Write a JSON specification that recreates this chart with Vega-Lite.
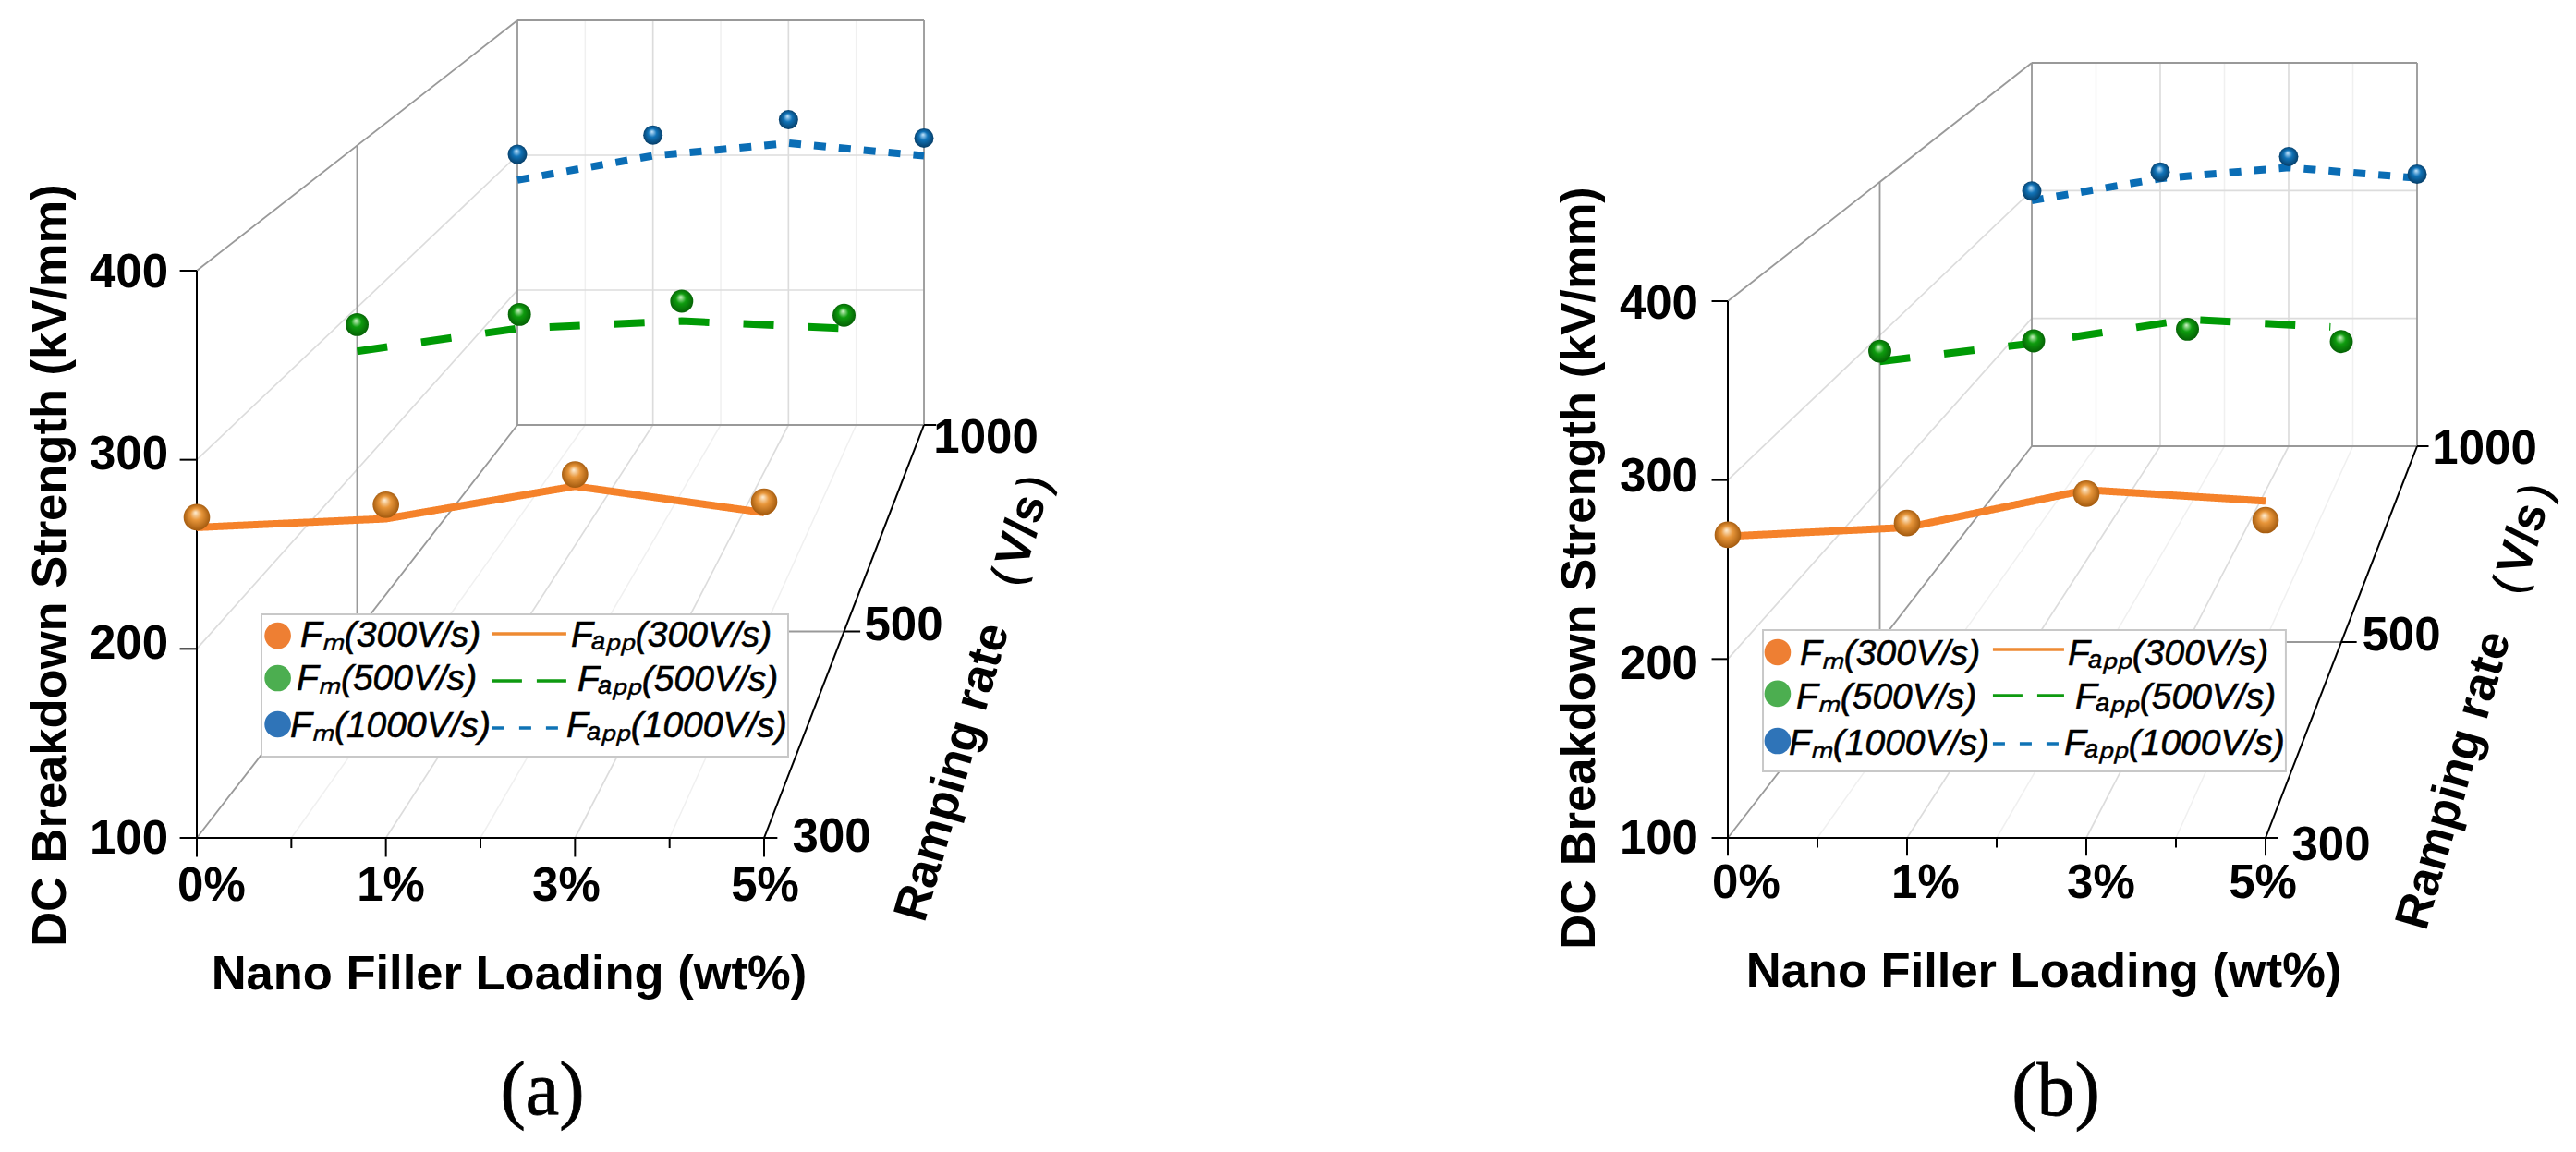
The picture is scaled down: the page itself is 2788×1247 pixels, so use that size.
{
"$schema":"https://vega.github.io/schema/vega-lite/v6.json",
"width":2788,"height":1247,"padding":0,
"autosize":{"type":"fit","contains":"padding"},
"background":"white",
"config":{"view":{"stroke":null}},
"resolve":{"scale":{"color":"independent","strokeWidth":"independent","strokeDash":"independent"}},
"data":{"values":[
{"role":"frame","kind":"faint","panel":["a","b"],"p":0.5,"t":0,"s":100,"p2":0.5,"t2":1,"s2":100},
{"role":"frame","kind":"faint","panel":["a","b"],"p":1.5,"t":0,"s":100,"p2":1.5,"t2":1,"s2":100},
{"role":"frame","kind":"faint","panel":["a","b"],"p":2.5,"t":0,"s":100,"p2":2.5,"t2":1,"s2":100},
{"role":"frame","kind":"faint","panel":["a","b"],"p":0.5,"t":1,"s":100,"p2":0.5,"t2":1,"s2":400},
{"role":"frame","kind":"faint","panel":["a","b"],"p":1.5,"t":1,"s":100,"p2":1.5,"t2":1,"s2":400},
{"role":"frame","kind":"faint","panel":["a","b"],"p":2.5,"t":1,"s":100,"p2":2.5,"t2":1,"s2":400},
{"role":"frame","kind":"light","panel":["a","b"],"p":1,"t":0,"s":100,"p2":1,"t2":1,"s2":100},
{"role":"frame","kind":"light","panel":["a","b"],"p":2,"t":0,"s":100,"p2":2,"t2":1,"s2":100},
{"role":"frame","kind":"light","panel":["a","b"],"p":1,"t":1,"s":100,"p2":1,"t2":1,"s2":400},
{"role":"frame","kind":"light","panel":["a","b"],"p":2,"t":1,"s":100,"p2":2,"t2":1,"s2":400},
{"role":"frame","kind":"light","panel":["a","b"],"p":0,"t":1,"s":200,"p2":3,"t2":1,"s2":200},
{"role":"frame","kind":"light","panel":["a","b"],"p":0,"t":1,"s":300,"p2":3,"t2":1,"s2":300},
{"role":"frame","kind":"light","panel":["a","b"],"p":0,"t":0,"s":200,"p2":0,"t2":1,"s2":200},
{"role":"frame","kind":"light","panel":["a","b"],"p":0,"t":0,"s":300,"p2":0,"t2":1,"s2":300},
{"role":"frame","kind":"edge","panel":["a","b"],"p":0,"t":0,"s":400,"p2":0,"t2":1,"s2":400},
{"role":"frame","kind":"edge","panel":["a","b"],"p":0,"t":0,"s":100,"p2":0,"t2":1,"s2":100},
{"role":"frame","kind":"edge","panel":["a","b"],"p":0,"t":1,"s":400,"p2":3,"t2":1,"s2":400},
{"role":"frame","kind":"edge","panel":["a","b"],"p":0,"t":1,"s":100,"p2":3,"t2":1,"s2":100},
{"role":"frame","kind":"edge","panel":["a","b"],"p":0,"t":1,"s":100,"p2":0,"t2":1,"s2":400},
{"role":"frame","kind":"edge","panel":["a","b"],"p":3,"t":1,"s":100,"p2":3,"t2":1,"s2":400},
{"role":"frame","kind":"edge","panel":["a","b"],"p":0,"t":0.5,"s":100,"p2":0,"t2":0.5,"s2":400},
{"role":"frame","kind":"edge","panel":["a","b"],"p":0,"t":0.5,"s":100,"p2":3,"t2":0.5,"s2":100},
{"role":"frame","kind":"axis","panel":["a","b"],"p":0,"t":0,"s":100,"p2":0,"t2":0,"s2":400},
{"role":"frame","kind":"axis","panel":["a","b"],"p":-0.09,"t":0,"s":100,"p2":3.07,"t2":0,"s2":100},
{"role":"frame","kind":"axis","panel":["a","b"],"p":3,"t":0,"s":100,"p2":3,"t2":1,"s2":100},
{"role":"frame","kind":"axis","panel":["a","b"],"p":-0.09,"t":0,"s":200,"p2":0,"t2":0,"s2":200},
{"role":"frame","kind":"axis","panel":["a","b"],"p":-0.09,"t":0,"s":300,"p2":0,"t2":0,"s2":300},
{"role":"frame","kind":"axis","panel":["a","b"],"p":-0.09,"t":0,"s":400,"p2":0,"t2":0,"s2":400},
{"role":"frame","kind":"axis","panel":["a","b"],"p":0,"t":0,"s":100,"p2":0,"t2":0,"s2":90},
{"role":"frame","kind":"axis","panel":["a","b"],"p":1,"t":0,"s":100,"p2":1,"t2":0,"s2":90},
{"role":"frame","kind":"axis","panel":["a","b"],"p":2,"t":0,"s":100,"p2":2,"t2":0,"s2":90},
{"role":"frame","kind":"axis","panel":["a","b"],"p":3,"t":0,"s":100,"p2":3,"t2":0,"s2":90},
{"role":"frame","kind":"axis","panel":["a","b"],"p":0.5,"t":0,"s":100,"p2":0.5,"t2":0,"s2":94.6},
{"role":"frame","kind":"axis","panel":["a","b"],"p":1.5,"t":0,"s":100,"p2":1.5,"t2":0,"s2":94.6},
{"role":"frame","kind":"axis","panel":["a","b"],"p":2.5,"t":0,"s":100,"p2":2.5,"t2":0,"s2":94.6},
{"role":"frame","kind":"axis","panel":["a","b"],"p":3,"t":0.5,"s":100,"p2":3.1,"t2":0.5,"s2":100},
{"role":"frame","kind":"axis","panel":["a","b"],"p":3,"t":1,"s":100,"p2":3.09,"t2":1,"s2":100},

{"role":"line","series":"300","panel":"a","p":0,"t":0,"s":264.2},
{"role":"line","series":"300","panel":"a","p":1,"t":0,"s":268.8},
{"role":"line","series":"300","panel":"a","p":2,"t":0,"s":286},
{"role":"line","series":"300","panel":"a","p":3,"t":0,"s":272},
{"role":"line","series":"500","panel":"a","p":0,"t":0.5,"s":273},
{"role":"line","series":"500","panel":"a","p":1,"t":0.5,"s":287.1},
{"role":"line","series":"500","panel":"a","p":2,"t":0.5,"s":291.6},
{"role":"line","series":"500","panel":"a","p":3,"t":0.5,"s":287.1},
{"role":"line","series":"1000","panel":"a","p":0,"t":1,"s":281.6},
{"role":"line","series":"1000","panel":"a","p":1,"t":1,"s":299.6},
{"role":"line","series":"1000","panel":"a","p":2,"t":1,"s":308.9},
{"role":"line","series":"1000","panel":"a","p":3,"t":1,"s":299.6},
{"role":"line","series":"300","panel":"b","p":0,"t":0,"s":268.6},
{"role":"line","series":"300","panel":"b","p":1,"t":0,"s":273.5},
{"role":"line","series":"300","panel":"b","p":2,"t":0,"s":294.5},
{"role":"line","series":"300","panel":"b","p":3,"t":0,"s":288.3},
{"role":"line","series":"500","panel":"b","p":0,"t":0.5,"s":283},
{"role":"line","series":"500","panel":"b","p":1,"t":0.5,"s":294.9},
{"role":"line","series":"500","panel":"b","p":2,"t":0.5,"s":310.3},
{"role":"line","series":"500","panel":"b","p":2.93,"t":0.5,"s":305.5},
{"role":"line","series":"1000","panel":"b","p":0,"t":1,"s":292.2},
{"role":"line","series":"1000","panel":"b","p":1,"t":1,"s":309.5},
{"role":"line","series":"1000","panel":"b","p":2,"t":1,"s":318.1},
{"role":"line","series":"1000","panel":"b","p":3,"t":1,"s":309.9},

{"role":"point","series":"300","panel":"a","p":0,"t":0,"s":269.6},
{"role":"point","series":"300","panel":"a","p":1,"t":0,"s":276.2},
{"role":"point","series":"300","panel":"a","p":2,"t":0,"s":292.2},
{"role":"point","series":"300","panel":"a","p":3,"t":0,"s":277.8},
{"role":"point","series":"500","panel":"a","p":0,"t":0.5,"s":289.4},
{"role":"point","series":"500","panel":"a","p":1,"t":0.5,"s":295.7},
{"role":"point","series":"500","panel":"a","p":2,"t":0.5,"s":303.9},
{"role":"point","series":"500","panel":"a","p":3,"t":0.5,"s":295.2},
{"role":"point","series":"1000","panel":"a","p":0,"t":1,"s":300.7},
{"role":"point","series":"1000","panel":"a","p":1,"t":1,"s":314.9},
{"role":"point","series":"1000","panel":"a","p":2,"t":1,"s":326.3},
{"role":"point","series":"1000","panel":"a","p":3,"t":1,"s":312.7},
{"role":"point","series":"300","panel":"b","p":0,"t":0,"s":269.4},
{"role":"point","series":"300","panel":"b","p":1,"t":0,"s":276},
{"role":"point","series":"300","panel":"b","p":2,"t":0,"s":292.4},
{"role":"point","series":"300","panel":"b","p":3,"t":0,"s":277.6},
{"role":"point","series":"500","panel":"b","p":0,"t":0.5,"s":289.7},
{"role":"point","series":"500","panel":"b","p":1,"t":0.5,"s":296.4},
{"role":"point","series":"500","panel":"b","p":2,"t":0.5,"s":304},
{"role":"point","series":"500","panel":"b","p":3,"t":0.5,"s":295.9},
{"role":"point","series":"1000","panel":"b","p":0,"t":1,"s":299.7},
{"role":"point","series":"1000","panel":"b","p":1,"t":1,"s":314.6},
{"role":"point","series":"1000","panel":"b","p":2,"t":1,"s":326.7},
{"role":"point","series":"1000","panel":"b","p":3,"t":1,"s":312.9},

{"role":"box","panel":"a","p":0.342,"t":0,"s":218.2,"p2":3.127,"t2":0,"s2":143},
{"role":"box","panel":"b","p":0.196,"t":0,"s":216.2,"p2":3.113,"t2":0,"s2":137.2},

{"role":"keydot","series":"300","panel":"a","p":0.428,"t":0,"s":207},
{"role":"keydot","series":"500","panel":"a","p":0.428,"t":0,"s":184.5},
{"role":"keydot","series":"1000","panel":"a","p":0.428,"t":0,"s":160.1},
{"role":"keydot","series":"300","panel":"b","p":0.278,"t":0,"s":203.8},
{"role":"keydot","series":"500","panel":"b","p":0.278,"t":0,"s":180.6},
{"role":"keydot","series":"1000","panel":"b","p":0.278,"t":0,"s":154.2},

{"role":"key","series":"300","panel":"a","p":1.563,"t":0,"s":208,"p2":1.954,"t2":0,"s2":208},
{"role":"key","series":"500","panel":"a","p":1.563,"t":0,"s":183.1,"p2":1.954,"t2":0,"s2":183.1},
{"role":"key","series":"1000","panel":"a","p":1.563,"t":0,"s":158.1,"p2":1.954,"t2":0,"s2":158.1},
{"role":"key","series":"300","panel":"b","p":1.479,"t":0,"s":205.3,"p2":1.876,"t2":0,"s2":205.3},
{"role":"key","series":"500","panel":"b","p":1.479,"t":0,"s":179.5,"p2":1.876,"t2":0,"s2":179.5},
{"role":"key","series":"1000","panel":"b","p":1.479,"t":0,"s":152.7,"p2":1.876,"t2":0,"s2":152.7},

{"role":"keytext","panel":"a","label":"Fₘ(300V/s)","p":0.547,"t":0,"s":201.1},
{"role":"keytext","panel":"a","label":"Fₘ(500V/s)","p":0.528,"t":0,"s":178.2},
{"role":"keytext","panel":"a","label":"Fₘ(1000V/s)","p":0.494,"t":0,"s":153.3},
{"role":"keytext","panel":"a","label":"Fₐₚₚ(300V/s)","p":1.979,"t":0,"s":201.1},
{"role":"keytext","panel":"a","label":"Fₐₚₚ(500V/s)","p":2.013,"t":0,"s":177.7},
{"role":"keytext","panel":"a","label":"Fₐₚₚ(1000V/s)","p":1.954,"t":0,"s":153.3},
{"role":"keytext","panel":"b","label":"Fₘ(300V/s)","p":0.402,"t":0,"s":196.6},
{"role":"keytext","panel":"b","label":"Fₘ(500V/s)","p":0.381,"t":0,"s":172.3},
{"role":"keytext","panel":"b","label":"Fₘ(1000V/s)","p":0.34,"t":0,"s":146.5},
{"role":"keytext","panel":"b","label":"Fₐₚₚ(300V/s)","p":1.897,"t":0,"s":196.6},
{"role":"keytext","panel":"b","label":"Fₐₚₚ(500V/s)","p":1.938,"t":0,"s":172.3},
{"role":"keytext","panel":"b","label":"Fₐₚₚ(1000V/s)","p":1.876,"t":0,"s":146.5},

{"role":"ytick","panel":"a","label":"400","p":-0.151,"t":0,"s":398.5},
{"role":"ytick","panel":"a","label":"300","p":-0.151,"t":0,"s":302.3},
{"role":"ytick","panel":"a","label":"200","p":-0.151,"t":0,"s":202.1},
{"role":"ytick","panel":"a","label":"100","p":-0.151,"t":0,"s":99},
{"role":"ytick","panel":"b","label":"400","p":-0.165,"t":0,"s":397.9},
{"role":"ytick","panel":"b","label":"300","p":-0.165,"t":0,"s":301.4},
{"role":"ytick","panel":"b","label":"200","p":-0.165,"t":0,"s":196.6},
{"role":"ytick","panel":"b","label":"100","p":-0.165,"t":0,"s":99},

{"role":"tick","panel":"a","label":"0%","p":0.078,"t":0,"s":74.1},
{"role":"tick","panel":"a","label":"1%","p":1.026,"t":0,"s":74.1},
{"role":"tick","panel":"a","label":"3%","p":1.954,"t":0,"s":74.1},
{"role":"tick","panel":"a","label":"5%","p":3.005,"t":0,"s":74.1},
{"role":"tick","panel":"a","label":"300","p":3.357,"t":0,"s":100},
{"role":"tick","panel":"a","label":"500","p":3.738,"t":0,"s":211.9},
{"role":"tick","panel":"a","label":"1000","p":4.173,"t":0,"s":311.1},
{"role":"tick","panel":"b","label":"0%","p":0.103,"t":0,"s":74.2},
{"role":"tick","panel":"b","label":"1%","p":1.103,"t":0,"s":74.2},
{"role":"tick","panel":"b","label":"3%","p":2.082,"t":0,"s":74.2},
{"role":"tick","panel":"b","label":"5%","p":2.985,"t":0,"s":74.2},
{"role":"tick","panel":"b","label":"300","p":3.366,"t":0,"s":95.4},
{"role":"tick","panel":"b","label":"500","p":3.758,"t":0,"s":212.6},
{"role":"tick","panel":"b","label":"1000","p":4.222,"t":0,"s":316.9},

{"role":"xtitle","panel":"a","label":"Nano Filler Loading (wt%)","p":1.651,"t":0,"s":27.7},
{"role":"xtitle","panel":"b","label":"Nano Filler Loading (wt%)","p":1.763,"t":0,"s":25.1},
{"role":"ytitle","panel":"a","label":"DC Breakdown Strength (kV/mm)","p":-0.772,"t":0,"s":244.1},
{"role":"ytitle","panel":"b","label":"DC Breakdown Strength (kV/mm)","p":-0.825,"t":0,"s":250.8},
{"role":"rtitle","panel":"a","label":"Ramping rate （V/s）","p":4.129,"t":0,"s":181},
{"role":"rtitle","panel":"b","label":"Ramping rate （V/s）","p":4.191,"t":0,"s":181},
{"role":"caption","panel":"a","label":"(a)","p":1.827,"t":0,"s":-33.9},
{"role":"caption","panel":"b","label":"(b)","p":1.83,"t":0,"s":-42}
]},
"transform":[
{"flatten":["panel"]},
{"calculate":"(1-datum.t)*(datum.panel=='a'?213+datum.p*204.67:1870+datum.p*194)+datum.t*(datum.panel=='a'?560+datum.p*146.67:2199+datum.p*139)","as":"px"},
{"calculate":"(1-datum.t)*(datum.panel=='a'?907-(datum.s-100)*2.0467:907-(datum.s-100)*1.9367)+datum.t*(datum.panel=='a'?460-(datum.s-100)*1.46:483-(datum.s-100)*1.3833)","as":"py"},
{"calculate":"(1-datum.t2)*(datum.panel=='a'?213+datum.p2*204.67:1870+datum.p2*194)+datum.t2*(datum.panel=='a'?560+datum.p2*146.67:2199+datum.p2*139)","as":"px2"},
{"calculate":"(1-datum.t2)*(datum.panel=='a'?907-(datum.s2-100)*2.0467:907-(datum.s2-100)*1.9367)+datum.t2*(datum.panel=='a'?460-(datum.s2-100)*1.46:483-(datum.s2-100)*1.3833)","as":"py2"}
],
"encoding":{
"x":{"field":"px","type":"quantitative","axis":null,"scale":{"domain":[0,2788],"nice":false,"zero":false}},
"y":{"field":"py","type":"quantitative","axis":null,"scale":{"domain":[1247,0],"nice":false,"zero":false}}
},
"layer":[
{"transform":[{"filter":"datum.role=='frame'"}],
 "mark":{"type":"rule"},
 "encoding":{
  "x2":{"field":"px2"},"y2":{"field":"py2"},
  "color":{"field":"kind","type":"nominal","legend":null,"scale":{"domain":["faint","light","edge","axis"],"range":["#f0f0f0","#dcdcdc","#999999","#000000"]}},
  "strokeWidth":{"field":"kind","type":"ordinal","legend":null,"scale":{"domain":["faint","light","edge","axis"],"range":[1.5,2,2,3]}}
 }},
{"transform":[{"filter":"datum.role=='line'"}],
 "mark":{"type":"line","strokeWidth":8},
 "encoding":{
  "detail":{"field":"panel"},
  "color":{"field":"series","type":"nominal","legend":null,"scale":{"domain":["300","500","1000"],"range":["#f5822a","#009a05","#0a6db5"]}},
  "strokeDash":{"field":"series","type":"nominal","legend":null,"scale":{"domain":["300","500","1000"],"range":[[1,0],[33,37],[13,14]]}}
 }},
{"transform":[{"filter":"datum.role=='point'&&datum.series=='300'"}],
 "mark":{"type":"point","filled":true,"opacity":1,"size":820,"fill":{"gradient":"radial","x1":0.45,"y1":0.32,"r1":0,"x2":0.5,"y2":0.5,"r2":0.55,"stops":[{"offset":0,"color":"#fff0d8"},{"offset":0.4,"color":"#e8963a"},{"offset":1,"color":"#9a5208"}]}}},
{"transform":[{"filter":"datum.role=='point'&&datum.series=='500'"}],
 "mark":{"type":"point","filled":true,"opacity":1,"size":620,"fill":{"gradient":"radial","x1":0.45,"y1":0.32,"r1":0,"x2":0.5,"y2":0.5,"r2":0.55,"stops":[{"offset":0,"color":"#d0f5c8"},{"offset":0.4,"color":"#0e9c0e"},{"offset":1,"color":"#045a04"}]}}},
{"transform":[{"filter":"datum.role=='point'&&datum.series=='1000'"}],
 "mark":{"type":"point","filled":true,"opacity":1,"size":440,"fill":{"gradient":"radial","x1":0.45,"y1":0.32,"r1":0,"x2":0.5,"y2":0.5,"r2":0.55,"stops":[{"offset":0,"color":"#c8e8ff"},{"offset":0.4,"color":"#1073b8"},{"offset":1,"color":"#06385f"}]}}},
{"transform":[{"filter":"datum.role=='box'"}],
 "mark":{"type":"rect","fill":"white","stroke":"#c8c8c8","strokeWidth":2},
 "encoding":{"x2":{"field":"px2"},"y2":{"field":"py2"}}},
{"transform":[{"filter":"datum.role=='keydot'"}],
 "mark":{"type":"point","filled":true,"opacity":1,"size":820},
 "encoding":{"color":{"field":"series","type":"nominal","legend":null,"scale":{"domain":["300","500","1000"],"range":["#ee7f33","#4cae50","#2f74b8"]}}}},
{"transform":[{"filter":"datum.role=='key'"}],
 "mark":{"type":"rule","strokeWidth":3.5},
 "encoding":{
  "x2":{"field":"px2"},"y2":{"field":"py2"},
  "color":{"field":"series","type":"nominal","legend":null,"scale":{"domain":["300","500","1000"],"range":["#ee8a32","#0e9a10","#0f73b5"]}},
  "strokeDash":{"field":"series","type":"nominal","legend":null,"scale":{"domain":["300","500","1000"],"range":[[1,0],[32,16],[13,16]]}}
 }},
{"transform":[{"filter":"datum.role=='keytext'"}],
 "mark":{"type":"text","align":"left","baseline":"alphabetic","font":"Liberation Sans","fontStyle":"italic","fontSize":39,"color":"#000","stroke":"#000","strokeWidth":0.6},
 "encoding":{"text":{"field":"label"}}},
{"transform":[{"filter":"datum.role=='ytick'"}],
 "mark":{"type":"text","align":"right","baseline":"middle","font":"Liberation Sans","fontWeight":"bold","fontSize":51,"color":"#000"},
 "encoding":{"text":{"field":"label"}}},
{"transform":[{"filter":"datum.role=='tick'"}],
 "mark":{"type":"text","align":"center","baseline":"middle","font":"Liberation Sans","fontWeight":"bold","fontSize":51,"color":"#000"},
 "encoding":{"text":{"field":"label"}}},
{"transform":[{"filter":"datum.role=='xtitle'"}],
 "mark":{"type":"text","align":"center","baseline":"middle","font":"Liberation Sans","fontWeight":"bold","fontSize":52.5,"color":"#000"},
 "encoding":{"text":{"field":"label"}}},
{"transform":[{"filter":"datum.role=='ytitle'"}],
 "mark":{"type":"text","align":"center","baseline":"middle","angle":270,"font":"Liberation Sans","fontWeight":"bold","fontSize":52.5,"color":"#000"},
 "encoding":{"text":{"field":"label"}}},
{"transform":[{"filter":"datum.role=='rtitle'"}],
 "mark":{"type":"text","align":"center","baseline":"middle","angle":286,"font":"Liberation Sans","fontWeight":"bold","fontSize":52,"color":"#000"},
 "encoding":{"text":{"field":"label"}}},
{"transform":[{"filter":"datum.role=='caption'"}],
 "mark":{"type":"text","align":"center","baseline":"middle","font":"Liberation Serif","fontSize":82,"color":"#000","stroke":"#000","strokeWidth":0.8},
 "encoding":{"text":{"field":"label"}}}
]
}
